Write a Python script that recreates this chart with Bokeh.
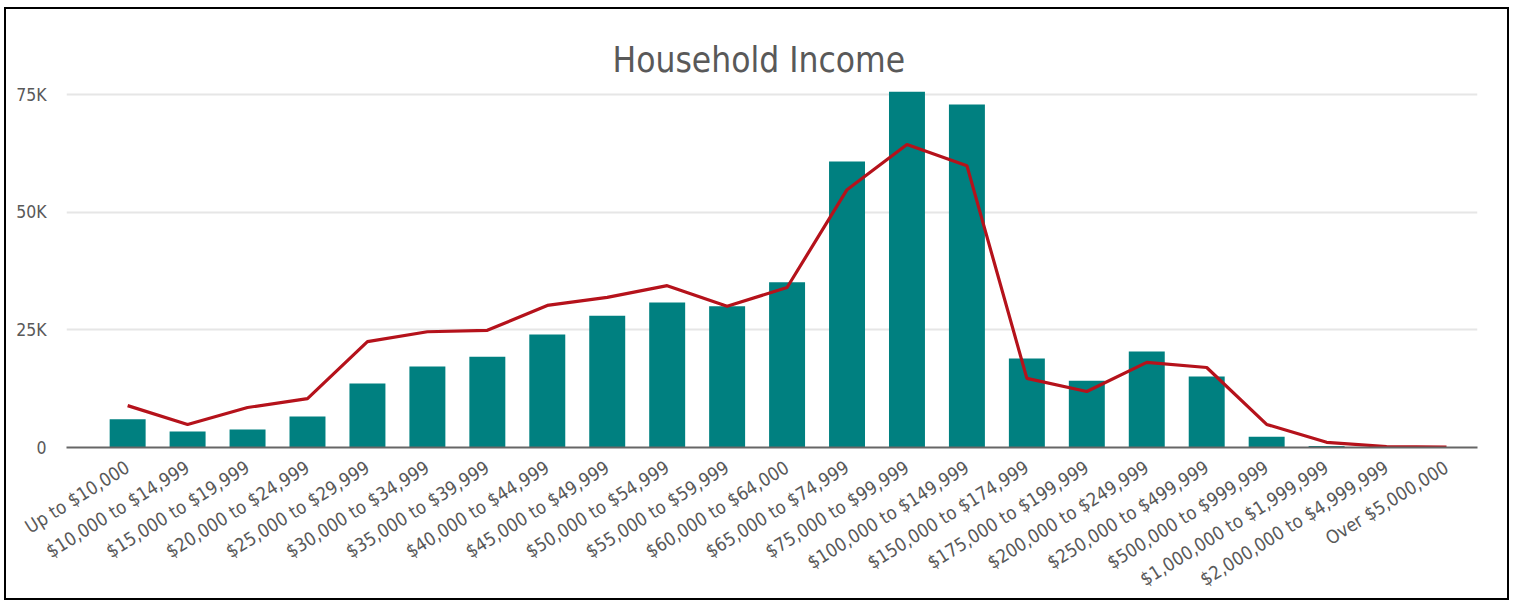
from bokeh.plotting import figure
from bokeh.models import Range1d, FixedTicker, ColumnDataSource
from bokeh.embed import file_html
from bokeh.resources import INLINE
import math

categories = [
    "Up to $10,000", "$10,000 to $14,999", "$15,000 to $19,999", "$20,000 to $24,999",
    "$25,000 to $29,999", "$30,000 to $34,999", "$35,000 to $39,999", "$40,000 to $44,999",
    "$45,000 to $49,999", "$50,000 to $54,999", "$55,000 to $59,999", "$60,000 to $64,000",
    "$65,000 to $74,999", "$75,000 to $99,999", "$100,000 to $149,999", "$150,000 to $174,999",
    "$175,000 to $199,999", "$200,000 to $249,999", "$250,000 to $499,999", "$500,000 to $999,999",
    "$1,000,000 to $1,999,999", "$2,000,000 to $4,999,999", "Over $5,000,000",
]
bar_values = [
    6000, 3400, 3800, 6600, 13600, 17200, 19300, 24000, 28000, 30800, 30000, 35100,
    60800, 75600, 72900, 18900, 14200, 20400, 15100, 2300, 300, 50, 20,
]
line_values = [
    8900, 4900, 8500, 10400, 22500, 24600, 24900, 30200, 31900, 34400, 30000, 34000,
    54800, 64400, 59900, 14700, 11900, 18100, 17000, 4900, 1100, 200, 100,
]
y_ticks = [0, 25000, 50000, 75000]
y_tick_labels = ["0", "25K", "50K", "75K"]

FONT = "'DejaVu Sans Condensed', 'DejaVu Sans', sans-serif"
GREY = "#595959"

xs = list(range(len(categories)))
src = ColumnDataSource(dict(x=xs, bar=bar_values, line=line_values))

p = figure(
    width=1505, height=593,
    x_range=Range1d(-1.02, len(categories) - 0.483),
    y_range=Range1d(0, 78000),
    output_backend="svg", toolbar_location=None,
    min_border_left=60, min_border_right=34, min_border_top=71, min_border_bottom=155,
    title="Household Income",
)
p.styles = {"border": "2px solid #000000", "box-sizing": "border-box",
            "margin-left": "4px", "margin-top": "7px"}

p.title.align = "left"
p.title.text_font = FONT
p.title.text_font_size = "35px"
p.title.text_font_style = "normal"
p.title.text_color = GREY
p.title.standoff = 2
p.title.offset = 546

p.vbar(x="x", top="bar", width=0.6, source=src, fill_color="#008080", line_color=None)
p.line(x="x", y="line", source=src, line_color="#B5121B", line_width=3.2)

p.outline_line_color = None
p.xgrid.grid_line_color = None
p.ygrid.grid_line_color = "#e6e6e6"
p.ygrid.grid_line_width = 2
p.ygrid.ticker = FixedTicker(ticks=y_ticks)

p.xaxis.ticker = FixedTicker(ticks=xs)
p.xaxis.major_label_overrides = {i: c for i, c in enumerate(categories)}
p.xaxis.major_label_orientation = math.radians(32)
p.xaxis.major_label_text_font = FONT
p.xaxis.major_label_text_font_size = "18.5px"
p.xaxis.major_label_text_color = GREY
p.xaxis.major_tick_line_color = None
p.xaxis.minor_tick_line_color = None
p.xaxis.axis_line_color = "#666666"
p.xaxis.axis_line_width = 2
p.xaxis.major_label_standoff = 12

p.yaxis.ticker = FixedTicker(ticks=y_ticks)
p.yaxis.major_label_overrides = {t: l for t, l in zip(y_ticks, y_tick_labels)}
p.yaxis.major_label_text_font = FONT
p.yaxis.major_label_text_font_size = "17.5px"
p.yaxis.major_label_text_color = GREY
p.yaxis.axis_line_color = None
p.yaxis.major_tick_line_color = None
p.yaxis.minor_tick_line_color = None
p.yaxis.major_label_standoff = 14

p.background_fill_color = "white"
p.border_fill_color = "white"

open("out.html", "w").write(file_html(p, INLINE))
